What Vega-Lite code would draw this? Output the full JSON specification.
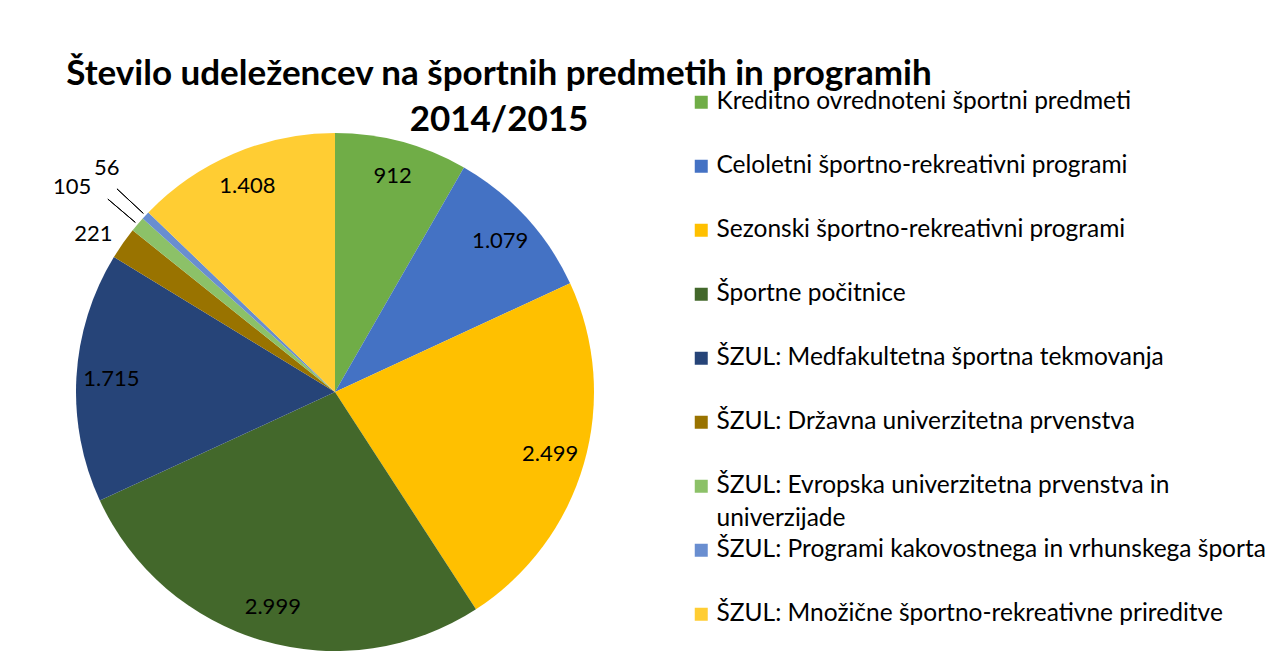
{
  "$schema": "https://vega.github.io/schema/vega-lite/v6.json",
  "autosize": {"type": "none"},
  "padding": {"left": 76, "top": 133, "right": 690, "bottom": 0},
  "width": 518,
  "height": 518,
  "background": "white",
  "title": {
    "text": ["Število udeležencev na športnih predmetih in programih", "2014/2015"],
    "font": "Lato",
    "fontSize": 35,
    "fontWeight": "bold",
    "color": "black",
    "anchor": "middle",
    "frame": "group",
    "dx": 164,
    "offset": -73,
    "lineHeight": 46
  },
  "data": {
    "values": [
      {"id": 1, "category": "Kreditno ovrednoteni športni predmeti", "value": 912},
      {"id": 2, "category": "Celoletni športno-rekreativni programi", "value": 1079},
      {"id": 3, "category": "Sezonski športno-rekreativni programi", "value": 2499},
      {"id": 4, "category": "Športne počitnice", "value": 2999},
      {"id": 5, "category": "ŠZUL: Medfakultetna športna tekmovanja", "value": 1715},
      {"id": 6, "category": "ŠZUL: Državna univerzitetna prvenstva", "value": 221},
      {"id": 7, "category": "ŠZUL: Evropska univerzitetna prvenstva in univerzijade", "value": 105},
      {"id": 8, "category": "ŠZUL: Programi kakovostnega in vrhunskega športa", "value": 56},
      {"id": 9, "category": "ŠZUL: Množične športno-rekreativne prireditve", "value": 1408}
    ]
  },
  "encoding": {
    "theta": {"field": "value", "type": "quantitative", "stack": true},
    "order": {"field": "id", "type": "quantitative"}
  },
  "layer": [
    {
      "mark": {"type": "arc"},
      "encoding": {
        "color": {
          "field": "category",
          "type": "nominal",
          "scale": {
            "domain": [
              "Kreditno ovrednoteni športni predmeti",
              "Celoletni športno-rekreativni programi",
              "Sezonski športno-rekreativni programi",
              "Športne počitnice",
              "ŠZUL: Medfakultetna športna tekmovanja",
              "ŠZUL: Državna univerzitetna prvenstva",
              "ŠZUL: Evropska univerzitetna prvenstva in univerzijade",
              "ŠZUL: Programi kakovostnega in vrhunskega športa",
              "ŠZUL: Množične športno-rekreativne prireditve"
            ],
            "range": ["#70AD47", "#4472C4", "#FFC000", "#43682B", "#264478", "#997300", "#8CC168", "#698ED0", "#FFCD33"]
          },
          "legend": {
            "title": null,
            "orient": "none",
            "legendX": 613,
            "legendY": -43,
            "symbolType": "square",
            "symbolSize": 169,
            "symbolStrokeWidth": 0,
            "labelFont": "Lato",
            "labelFontSize": 24.5,
            "labelColor": "black",
            "labelOffset": 3,
            "labelLimit": 700,
            "rowPadding": 6,
            "gridAlign": "all",
            "padding": 0,
            "labelExpr": "datum.label == 'ŠZUL: Evropska univerzitetna prvenstva in univerzijade' ? ['ŠZUL: Evropska univerzitetna prvenstva in', 'univerzijade'] : datum.label"
          }
        }
      }
    },
    {
      "mark": {"type": "arc", "radius": 262, "radius2": 298, "padAngle": 0.5, "fillOpacity": 0, "stroke": "black", "strokeWidth": 1},
      "encoding": {
        "strokeOpacity": {"condition": {"test": "datum.id == 7 || datum.id == 8", "value": 1}, "value": 0}
      }
    },
    {
      "mark": {"type": "text", "radius": 224, "font": "Lato", "fontSize": 22, "color": "black"},
      "encoding": {
        "text": {"condition": {"test": "datum.value < 300", "value": ""}, "field": "value", "type": "quantitative", "format": ","}
      }
    },
    {
      "mark": {"type": "text", "radius": 289, "dx": -5, "dy": 8, "font": "Lato", "fontSize": 22, "color": "black"},
      "encoding": {
        "text": {"condition": {"test": "datum.id != 6", "value": ""}, "field": "value", "type": "quantitative", "format": ","}
      }
    },
    {
      "mark": {"type": "text", "radius": 333, "dx": -9, "dy": 11, "font": "Lato", "fontSize": 22, "color": "black"},
      "encoding": {
        "text": {"condition": {"test": "datum.id != 7", "value": ""}, "field": "value", "type": "quantitative", "format": ","}
      }
    },
    {
      "mark": {"type": "text", "radius": 323, "dx": 8, "dy": -4, "font": "Lato", "fontSize": 22, "color": "black"},
      "encoding": {
        "text": {"condition": {"test": "datum.id != 8", "value": ""}, "field": "value", "type": "quantitative", "format": ","}
      }
    }
  ],
  "config": {
    "view": {"stroke": null},
    "locale": {"number": {"decimal": ",", "thousands": ".", "grouping": [3], "currency": ["", " €"]}},
    "style": {"guide-label": {"lineHeight": 33}}
  }
}
